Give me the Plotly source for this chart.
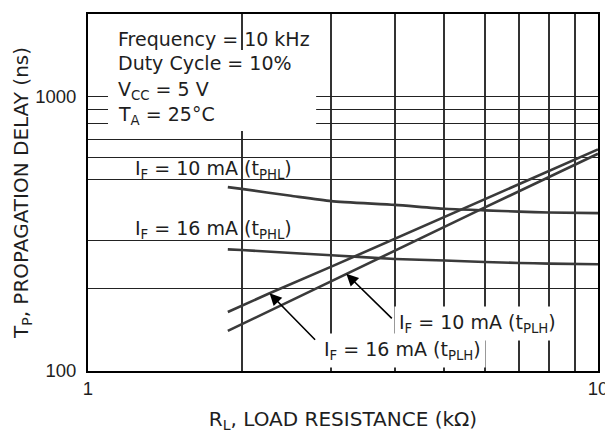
import numpy as np
import plotly.graph_objects as go

# ---- data ----
R_phl_10 = [1.88, 2.0, 2.5, 3.0, 4.0, 5.0, 6.0, 7.0, 8.0, 10.0]
T_phl_10 = [468, 461, 435, 416, 403, 390, 385, 381, 378, 376]

R_phl_16 = [1.88, 2.0, 3.0, 4.0, 5.0, 6.0, 7.0, 8.0, 10.0]
T_phl_16 = [277.6, 276, 264, 256, 252.6, 249.7, 247.6, 246.3, 245]

R_plh_16 = [1.88, 2.27, 3.0, 3.92, 5.89, 10.0]
T_plh_16 = [164, 192, 240, 299, 418, 642]

R_plh_10 = [1.88, 3.21, 3.92, 5.89, 10.0]
T_plh_10 = [140, 226, 271, 388, 619]

x_grid = [1, 2, 3, 4, 5, 6, 7, 8, 9, 10]
x_ticktext = ["1", "", "", "", "", "", "", "", "", "10"]
y_grid = [100, 200, 300, 500, 600, 700, 800, 900, 1000, 2000]
y_ticktext = ["100", "", "", "", "", "", "", "", "1000", ""]

cond_lines = ["Frequency = 10 kHz", "Duty Cycle = 10%",
              "V<sub>CC</sub> = 5 V", "T<sub>A</sub> = 25°C"]

LINE_COLOR = "#3a3a3a"
TXT = "#1e1e1e"
ANN_FONT = dict(family="DejaVu Sans", size=19, color=TXT)

# page offset (browser body margin) and plot area in window pixels
OFF = 8
L, T, W, H = 88, 14, 509.7, 357
FW, FH = 613 - OFF, 433 - OFF
def px(xp):
    return (xp - L) / W
def py(yp):
    return (T + H - yp) / H

fig = go.Figure()
for xs, ys, shp in [(R_phl_10, T_phl_10, "spline"), (R_phl_16, T_phl_16, "spline"),
                    (R_plh_16, T_plh_16, "linear"), (R_plh_10, T_plh_10, "linear")]:
    line = dict(color=LINE_COLOR, width=2.6, shape=shp)
    if shp == "spline":
        line["smoothing"] = 0.6
    fig.add_trace(go.Scatter(x=xs, y=ys, mode="lines", line=line,
                             hoverinfo="skip", showlegend=False))

# white box behind the conditions text (hides grid only; no curves there)
fig.add_shape(type="rect", xref="paper", yref="paper",
              x0=px(108), x1=px(316), y0=py(131), y1=py(50),
              fillcolor="white", line=dict(width=0), layer="above")

anns = []
for txt, yc in zip(cond_lines, [39, 63, 90, 115]):
    anns.append(dict(text=txt, xref="paper", yref="paper", x=px(116), y=py(yc),
                     xanchor="left", yanchor="middle", showarrow=False, font=ANN_FONT))

anns.append(dict(text="I<sub>F</sub> = 10 mA (t<sub>PHL</sub>)", xref="paper", yref="paper",
                 x=px(133), y=py(169), xanchor="left", yanchor="middle",
                 showarrow=False, font=ANN_FONT))
anns.append(dict(text="I<sub>F</sub> = 16 mA (t<sub>PHL</sub>)", xref="paper", yref="paper",
                 x=px(133), y=py(229), xanchor="left", yanchor="middle",
                 showarrow=False, font=ANN_FONT))
anns.append(dict(text="I<sub>F</sub> = 10 mA (t<sub>PLH</sub>)", xref="paper", yref="paper",
                 x=px(394), y=py(323), xanchor="left", yanchor="middle",
                 showarrow=False, font=ANN_FONT, bgcolor="white", borderpad=4))
anns.append(dict(text="I<sub>F</sub> = 16 mA (t<sub>PLH</sub>)", xref="paper", yref="paper",
                 x=px(319), y=py(350), xanchor="left", yanchor="middle",
                 showarrow=False, font=ANN_FONT, bgcolor="white", borderpad=4))

# arrows pointing to the tPLH curves
anns.append(dict(text="", x=np.log10(R_plh_16[1]), y=np.log10(T_plh_16[1]), xref="x", yref="y",
                 showarrow=True, ax=47, ay=48, arrowhead=2, arrowsize=1.5,
                 arrowwidth=1.6, arrowcolor="black", standoff=0))
anns.append(dict(text="", x=np.log10(R_plh_10[1]), y=np.log10(T_plh_10[1]), xref="x", yref="y",
                 showarrow=True, ax=47, ay=46, arrowhead=2, arrowsize=1.5,
                 arrowwidth=1.6, arrowcolor="black", standoff=0))

fig.update_layout(
    width=FW, height=FH,
    margin=dict(l=L - OFF, r=FW - (L - OFF) - W, t=T - OFF, b=FH - (T - OFF) - H,
                autoexpand=False),
    paper_bgcolor="white", plot_bgcolor="white",
    font=dict(family="Liberation Sans, Arial", size=18.5, color=TXT),
    annotations=anns,
    showlegend=False,
)
fig.update_xaxes(type="log", range=[0, 1], tickvals=x_grid, ticktext=x_ticktext,
                 showgrid=True, gridcolor="#333", gridwidth=1.5,
                 showline=True, linecolor="black", linewidth=2, mirror=True,
                 ticks="", zeroline=False, ticklabelstandoff=0, automargin=False,
                 title=dict(text="R<sub>L</sub>, LOAD RESISTANCE (kΩ)",
                            font=dict(family="DejaVu Sans", size=20, color=TXT), standoff=18))
fig.update_yaxes(type="log", range=[2, np.log10(2000)], tickvals=y_grid, ticktext=y_ticktext,
                 showgrid=True, gridcolor="#222", gridwidth=1.4,
                 showline=True, linecolor="black", linewidth=2, mirror=True,
                 ticks="", zeroline=False, ticklabelstandoff=6, automargin=False,
                 title=dict(text="T<sub>P</sub>, PROPAGATION DELAY (ns)",
                            font=dict(family="DejaVu Sans", size=20, color=TXT), standoff=1))

fig.write_html("out.html")
